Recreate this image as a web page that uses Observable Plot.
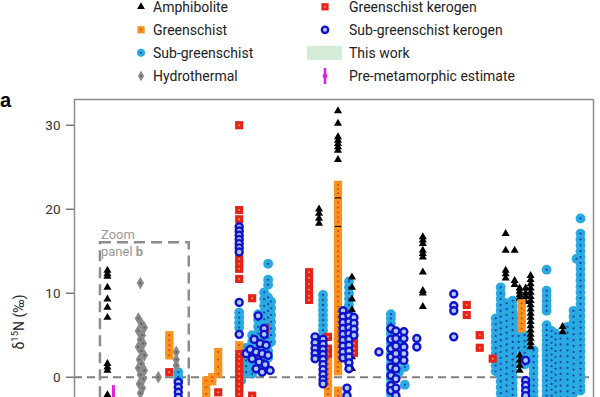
<!DOCTYPE html>
<html>
<head>
<meta charset="utf-8">
<script src="https://cdn.jsdelivr.net/npm/d3@7"></script>
<script src="https://cdn.jsdelivr.net/npm/@observablehq/plot@0.6"></script>
<style>
  html, body { margin: 0; padding: 0; background: #fff; overflow: hidden; }
  #wrap { position: relative; width: 600px; height: 397px; overflow: hidden; }
  #wrap svg { position: absolute; left: 0; top: 0; }
</style>
</head>
<body>
<div id="wrap"></div>
<script>
// ---- Data: [position along the x axis, [δ15N values (‰)]] ----
const amphibolite = [
  [33, [12.7, 12.3, 12.0, 10.7, 9.3, 8.3, 7.1, 1.6, 1.2, 0.8, -2.1]],
  [245, [20.0, 19.5, 18.9, 18.3]],
  [264, [31.7, 30.2, 28.6, 28.2, 27.8, 27.4, 27.0, 25.9, 21.5, 18.1]],
  [278, [11.9, 10.7, 9.3, 8.0, 6.6, 5.2, 3.8, 2.4, 1.0]],
  [349, [16.7, 16.3, 15.9, 15.1, 14.7, 14.3, 12.5, 10.3, 10.0, 8.4]],
  [432, [17.1, 15.1, 12.7, 12.3, 11.8]],
  [441, [15.1, 11.5, 11.0]],
  [446, [10.6, 10.2, 9.8, 9.4, 2.6, 2.0, 1.4, 0.8]],
  [452, [10.6, 10.0, 9.6, 9.0]],
  [457, [12.1, 11.6, 11.1, 10.6, 10.1, 9.6, 9.1, 8.6, 8.1, 7.6, 7.1, 6.6, 6.1, 5.6, 5.1, 4.6, 4.1, 3.6]],
  [489, [6.0, 5.4]]
];
const greenschist = [
  [95, [5.0, 4.4, 3.8, 3.2, 2.6]],
  [144, [3.0, 2.1, 1.2, 0.4]],
  [132, [-0.4, -1.2, -2.0]],
  [138, [0.0, -0.5]],
  [165, [3.8]],
  [254, [2.2, 1.6, 1.0, 0.4, -0.2, -0.8, -1.4, -2.0]],
  [264, [22.9, 22.4, 21.9, 20.8, 20.2, 19.6, 19.0, 18.5, 17.4, 16.8, 16.2, 15.6, 15.0, 14.4, 13.8, 13.2, 12.6, 12.0, 11.4, 10.8, 10.2, 9.6, 9.0, 8.4, 7.8, 7.2, 6.6, 6.0, 5.4, 4.8, 4.2, 3.6, 3.0, 2.4, 1.8, 1.2, 0.7, -1.6, -2.2]],
  [448, [8.8, 8.2, 7.6, 7.0, 6.4, 5.8]]
];
const subGreenschist = [
  [104, [0.6, 0.0, -0.4]],
  [165, [7.7, 7.1, 6.5, 5.9]],
  [167, [-0.4]],
  [172, [3.5, 2.8, 2.0, 1.3, 0.6]],
  [178, [5.0, 4.2, 3.5, 2.6, 1.8, 1.0, 0.4]],
  [184, [7.5, 6.8, 6.0, 5.2, 4.4, 3.6, 2.8, 2.0, 1.2]],
  [190, [10.1, 9.3, 8.5, 7.7, 6.9, 6.1, 5.3, 4.5, 3.7, 2.9, 2.1, 1.4]],
  [194, [13.5, 11.6, 11.0, 9.5, 8.7, 7.9, 7.1, 6.3, 5.5, 4.7, 3.9, 3.1, 2.3]],
  [197, [9.0, 8.2, 7.4, 6.6, 5.8, 5.0, 4.2]],
  [249, [9.8, 9.2, 8.6, 8.0, 7.4, 6.8, 6.2, 5.6, 5.0, 4.4]],
  [275, [11.4, 10.7, 10.0, 9.3, 8.6, 7.9, 7.2]],
  [317, [7.5, 7.0, 6.4, 5.8, 5.2, 4.6, 4.0, 3.4, 2.8, 2.2, 1.6, 1.0, 0.4, -0.2, -0.8, -1.4, -2.0]],
  [325, [3.8, 3.2, 2.6, 2.0, 0.6]],
  [331, [1.2, -0.9]],
  [422, [7.0, 6.3, 5.6, 4.9, 4.2, 3.5, 2.8, 2.1, 1.4, 0.7]],
  [427, [10.7, 10.0, 9.3, 8.6, 7.9, 7.2, 6.5, 5.8, 5.1, 4.4, 3.7, 3.0, 2.3, 1.6, 0.9, 0.2, -0.5, -1.2, -1.9, -2.6]],
  [433, [8.8, 8.1, 7.4, 6.7, 6.0, 5.3, 4.6, 3.9, 3.2, 2.5, 1.8, 1.1, 0.4, -0.3, -1.0, -1.7, -2.4]],
  [439, [9.1, 8.4, 7.7, 7.0, 6.3, 5.6, 4.9, 4.2, 3.5, 2.8, 2.1, 1.4, 0.7, 0.0, -0.7, -1.4, -2.1]],
  [445, [7.0, 6.3, 5.6, 4.9, 4.2, 3.5]],
  [451, [5.0, 4.3, 3.6, 2.9, 2.2, 1.5]],
  [460, [3.2, 2.5, 1.8, 1.1, 0.4, -0.3, -1.0, -1.7, -2.4]],
  [473, [12.8, 10.3, 9.7, 9.1, 8.5, 7.9, 6.2, 5.6, 5.0, 4.4, 3.8, 3.2, 2.6, 2.0, 1.4, 0.8, 0.2, -0.4, -1.0, -1.6, -2.2]],
  [478, [5.5, 4.8, 4.1, 3.4, 2.7, 2.0, 1.3, 0.6, -0.1, -0.8, -1.5, -2.2]],
  [482, [5.2, 4.5, 3.8, 3.1, 2.4, 1.7, 1.0, 0.3, -0.4, -1.1, -1.8, -2.5]],
  [487, [4.6, 3.9, 3.2, 2.5, 1.8, 1.1, 0.4, -0.3, -1.0, -1.7, -2.4]],
  [494, [6.0, 5.3, 4.6, 3.9, 3.2, 2.5, 1.8, 1.1, 0.4, -0.3, -1.0, -1.7, -2.4]],
  [500, [7.9, 7.2, 6.5, 5.8, 5.1, 4.4, 3.7, 3.0, 2.3, 1.6, 0.9, 0.2, -0.5, -1.2, -1.9]],
  [503, [14.1]],
  [507, [18.9, 17.1, 16.4, 15.7, 15.0, 14.3, 13.6, 12.9, 12.2, 11.5, 10.8, 10.1, 9.4, 8.7, 8.0, 7.3, 6.6, 5.9, 5.2, 4.5, 3.8, 3.1, 2.4, 1.7, 1.0, 0.3, -0.4, -1.1, -1.6]]
];
const hydrothermal = [
  [64, [7.0, 5.5, 3.6, 1.1]],
  [67, [6.4, 3.1, 1.6]],
  [70, [5.9, 2.6, 0.8]],
  [68, [5.0, -1.3]],
  [66, [11.2, 4.5, 0.3, -1.9]],
  [69, [4.0, -0.2]],
  [65, [2.1, -0.8]],
  [84, [0.0]],
  [102, [3.0, 2.1, 1.4]]
];
const greenschistKerogen = [
  [95, [0.6]],
  [144, [-1.8]],
  [165, [30.0, 19.9, 18.8, 14.1, 13.5, 12.9, 11.7, 2.8, 2.2, 1.6, 1.0, 0.4, -0.2, -0.8, -1.4, -2.0]],
  [178, [9.4, -2.2]],
  [180, [2.4]],
  [191, [5.8, 0.9]],
  [235, [12.5, 11.8, 11.1, 10.4, 9.7, 9.2]],
  [254, [4.8, 3.4, 2.8]],
  [280, [4.6, 4.0, 3.4, 2.9]],
  [393, [8.6, 7.4]],
  [406, [5.0, 3.5]],
  [419, [2.2]]
];
const subGreenschistKerogen = [
  [104, [-0.6, -1.2, -1.8, -2.4]],
  [165, [17.9, 17.4, 16.9, 16.4, 15.9, 15.4, 14.9, 8.9, 5.1]],
  [172, [2.8]], [176, [3.3]], [178, [2.2]], [180, [4.5]], [182, [3.0, 1.0]],
  [184, [7.3]], [185, [1.8]], [186, [4.0]], [188, [2.8, 0.6]], [190, [5.8, 5.1]],
  [191, [1.5]], [192, [3.8]], [194, [2.6]], [196, [0.8]],
  [241, [4.8, 4.1, 3.4, 2.8, 2.2]],
  [249, [4.5, 3.9, 3.3, 2.7, 2.1, 1.5, 0.9, 0.3, -0.3, -0.8]],
  [269, [7.9, 7.2, 6.5, 5.8, 5.1, 4.4, 3.7, 3.0, 2.3]],
  [273, [-1.3, -2.2]],
  [275, [7.3, 6.6, 5.9, 5.2, 4.5, 3.8, 3.1, 2.4, 1.7, 1.0]],
  [280, [7.1, 6.4, 5.7, 5.0]],
  [305, [3.0]],
  [317, [5.8, 4.5, 3.4, 2.4, 1.2, 0.2, -1.0, -1.6]],
  [322, [5.5, 4.6, 3.7, 2.8, 2.0, 1.0, -0.2, -1.3, -2.2]],
  [330, [5.4, 4.6, 3.6, 2.8, 2.0]],
  [343, [4.6, 3.6]],
  [380, [9.9, 8.5, 7.9, 4.8]],
  [452, [2.0, -0.4, -1.0, -1.6, -2.2]]
];
const preMetamorphic = [{x: 39, y1: -1.0, y2: -12}];
const zoomBox = [{x1: 26, x2: 115, y1: -12, y2: 16}];
const yTicks = [0, 10, 20, 30];
const xDomain = [0, 520];
const yDomain = [-2.42, 33.06];

const legendItems = [
  {label: "Amphibolite", kind: "amph", col: 0, row: 0},
  {label: "Greenschist", kind: "gs", col: 0, row: 1},
  {label: "Sub-greenschist", kind: "sgs", col: 0, row: 2},
  {label: "Hydrothermal", kind: "hydro", col: 0, row: 3},
  {label: "Greenschist kerogen", kind: "gsk", col: 1, row: 0},
  {label: "Sub-greenschist kerogen", kind: "sgsk", col: 1, row: 1},
  {label: "This work", kind: "work", col: 1, row: 2},
  {label: "Pre-metamorphic estimate", kind: "pre", col: 1, row: 3}
];

// ---- Styles ----
const C = {
  amph: "#000000",
  gs: "#f7931e", gsDot: "#d8431f",
  sgs: "#29abe2", sgsDot: "#1d3da8",
  hydro: "#8a8a8a", hydroDot: "#555555",
  gsk: "#e5231b", gskDot: "#f7a04d",
  sgsk: "#1111cc", sgskFill: "#a9caf3",
  work: "#d4ebd8", pre: "#e31ee3", grid: "#8c8c8c"
};

const flat = series => series.flatMap(([x, ys]) => ys.map(y => ({x, y})));
const am = flat(amphibolite), gs = flat(greenschist), sg = flat(subGreenschist),
      hy = flat(hydrothermal), gk = flat(greenschistKerogen), sk = flat(subGreenschistKerogen);
const dot = (data, o) => Plot.dot(data, {x: "x", y: "y", clip: true, ...o});

const chart = Plot.plot({
  width: 600, height: 397,
  marginTop: 99, marginBottom: 0, marginLeft: 74, marginRight: 7,
  style: {fontFamily: "Roboto, sans-serif", fontSize: "13.5px", color: "#333", background: "transparent"},
  x: {domain: xDomain, axis: null},
  y: {domain: yDomain, ticks: yTicks.length, tickSize: 8, tickPadding: 6, label: null},
  marks: [
    Plot.ruleY([0], {stroke: "#7f7f7f", strokeWidth: 2, strokeDasharray: "8,5"}),
    Plot.rect(zoomBox, {x1: "x1", x2: "x2", y1: "y1", y2: "y2", fill: "none", stroke: C.grid, strokeWidth: 2.5, strokeDasharray: "11,6", clip: true}),
    Plot.ruleX(preMetamorphic, {x: "x", y1: "y1", y2: "y2", stroke: C.pre, strokeWidth: 3, clip: true}),
    dot(sg, {r: 4.9, fill: C.sgs}),
    dot(sg, {r: 1.1, fill: C.sgsDot}),
    dot(hy, {symbol: "diamond", r: 2.9, fill: C.hydro, stroke: C.hydro, strokeWidth: 1.6}),
    dot(hy, {r: 0.9, fill: C.hydroDot}),
    dot(am, {symbol: "triangle", r: 3.0, fill: C.amph}),
    dot(gs, {symbol: "square", r: 4.6, fill: C.gs}),
    dot(gs, {r: 1, fill: C.gsDot}),
    dot(gk, {symbol: "square", r: 4.6, fill: C.gsk}),
    dot(gk, {r: 1, fill: C.gskDot}),
    dot(sk, {r: 3.5, fill: C.sgskFill, stroke: C.sgsk, strokeWidth: 2.4}),
    Plot.ruleX(xDomain, {stroke: C.grid, strokeWidth: 1.5}),
    Plot.ruleY([yDomain[1]], {stroke: C.grid, strokeWidth: 1.5})
  ]
});
document.getElementById("wrap").appendChild(chart);

// ---- Overlay: legend, panel label, axis title, annotation ----
const ov = d3.select("#wrap").append("svg")
  .attr("width", 600).attr("height", 397)
  .style("font-family", "Roboto, sans-serif").style("pointer-events", "none");

const colMarkX = [141, 325], colTextX = [153, 349], rowY = [6.8, 29.8, 52.8, 76];
const sym = (type, r) => d3.symbol(type, Math.PI * r * r)();
legendItems.forEach(d => {
  const cx = colMarkX[d.col], cy = rowY[d.row];
  const g = ov.append("g").attr("transform", `translate(${cx},${cy})`);
  if (d.kind === "amph") g.append("path").attr("d", sym(d3.symbolTriangle, 2.9)).attr("fill", C.amph);
  if (d.kind === "gs" || d.kind === "gsk") {
    g.append("path").attr("d", sym(d3.symbolSquare, 4.1)).attr("fill", C[d.kind]);
    g.append("circle").attr("r", 1).attr("fill", C[d.kind + "Dot"]);
  }
  if (d.kind === "sgs") {
    g.append("circle").attr("r", 4).attr("fill", C.sgs);
    g.append("circle").attr("r", 1).attr("fill", C.sgsDot);
  }
  if (d.kind === "hydro") {
    g.append("path").attr("d", sym(d3.symbolDiamond, 2.5)).attr("fill", C.hydro).attr("stroke", C.hydro).attr("stroke-width", 1.2);
    g.append("circle").attr("r", 0.8).attr("fill", C.hydroDot);
  }
  if (d.kind === "sgsk") g.append("circle").attr("r", 3.2).attr("fill", C.sgskFill).attr("stroke", C.sgsk).attr("stroke-width", 2.3);
  if (d.kind === "work") g.append("rect").attr("x", -18).attr("y", -7).attr("width", 35).attr("height", 14).attr("fill", C.work);
  if (d.kind === "pre") {
    g.append("line").attr("y1", -8).attr("y2", 8).attr("stroke", C.pre).attr("stroke-width", 2.5);
    g.append("path").attr("d", "M0,-5L2.5,0L0,5L-2.5,0Z").attr("fill", C.pre);
  }
  ov.append("text").attr("x", colTextX[d.col]).attr("y", cy + 4.8)
    .attr("font-size", 14).attr("fill", "#222").text(d.label);
});

// panel letter
ov.append("text").attr("x", 0).attr("y", 107).attr("font-family", "Liberation Sans, Arial, sans-serif")
  .attr("font-weight", "bold").attr("font-size", 20).attr("fill", "#000").text("a");

// y axis title
const yt = ov.append("text").attr("transform", "translate(24,322) rotate(-90)")
  .attr("text-anchor", "middle").attr("font-size", 14).attr("fill", "#222");
yt.append("tspan").text("δ");
yt.append("tspan").attr("font-size", 9.5).attr("dy", -6).text("15");
yt.append("tspan").attr("dy", 6).text("N (‰)");

// zoom annotation
ov.append("text").attr("x", 101).attr("y", 238.5).attr("font-size", 13).attr("fill", "#999").text("Zoom");
const pb = ov.append("text").attr("x", 101).attr("y", 256).attr("font-size", 13).attr("fill", "#999");
pb.append("tspan").text("panel ");
pb.append("tspan").attr("font-weight", "bold").text("b");
</script>
</body>
</html>
